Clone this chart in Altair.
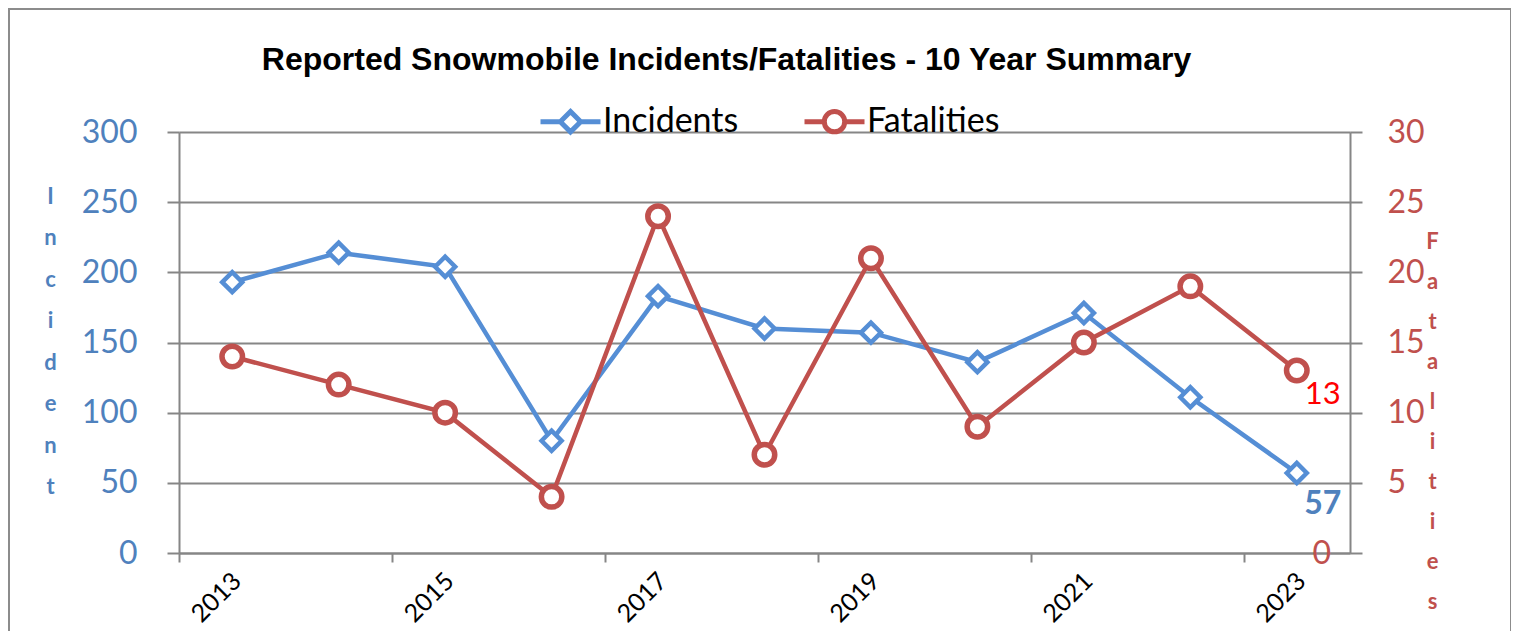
import altair as alt
import pandas as pd

# ---- data ----
years = [2013, 2014, 2015, 2016, 2017, 2018, 2019, 2020, 2021, 2022, 2023]
incidents = [193, 214, 204, 80, 183, 160, 157, 136, 171, 111, 57]
fatalities = [14, 12, 10, 4, 24, 7, 21, 9, 15, 19, 13]
series_names = ["Incidents", "Fatalities"]
x_tick_values = [2012.5, 2014.5, 2016.5, 2018.5, 2020.5, 2022.5]
left_ticks = [0, 50, 100, 150, 200, 250, 300]
right_ticks = [0, 5, 10, 15, 20, 25, 30]

BLUE_LINE = "#558ED5"
BLUE_TXT = "#4F81BD"
RED = "#C0504D"
GRAY = "#868686"

df = pd.DataFrame({"year": years, "incidents": incidents, "fatalities": fatalities})
legend_df = pd.DataFrame({"series": series_names})
frame_df = pd.DataFrame({"a": [0]})

W, H = 1171, 421

x_axis = alt.Axis(
    values=x_tick_values,
    labelExpr="format(datum.value + 0.5, 'd')",
    labelAngle=-45,
    labelAlign="right",
    labelBaseline="top",
    labelOffset=49,
    labelPadding=6,
    labelFont="Lato",
    labelFontSize=25,
    labelColor="black",
    tickSize=9,
    tickColor=GRAY,
    tickWidth=2,
    domainColor=GRAY,
    domainWidth=2,
    grid=False,
    title=None,
    labelOverlap=False,
)
x_scale = alt.Scale(domain=[2012.5, 2023.5], nice=False, zero=False)
x_enc = alt.X("year:Q", scale=x_scale, axis=x_axis)

left_axis = alt.Axis(
    orient="left",
    values=left_ticks,
    labelFont="Lato",
    labelFontSize=32,
    labelColor=BLUE_TXT,
    labelPadding=30,
    tickSize=12,
    tickColor=GRAY,
    tickWidth=2,
    domainColor=GRAY,
    domainWidth=2,
    grid=True,
    gridColor=GRAY,
    gridWidth=2,
    title=list("Incident"),
    titleAngle=0,
    titleAlign="center",
    titleBaseline="alphabetic",
    titleX=-129,
    titleY=71,
    titleLineHeight=41.5,
    titleFont="Lato",
    titleFontSize=22,
    titleFontWeight="bold",
    titleColor=BLUE_TXT,
)
y_left = alt.Y("incidents:Q", scale=alt.Scale(domain=[0, 300], nice=False), axis=left_axis)

right_axis = alt.Axis(
    orient="right",
    values=right_ticks,
    labelFont="Lato",
    labelFontSize=32,
    labelColor=RED,
    labelPadding={"condition": {"test": "datum.value === 0", "value": -50}, "value": 25},
    tickSize=12,
    tickColor=GRAY,
    tickWidth=2,
    domainColor=GRAY,
    domainWidth=2,
    grid=False,
    title=list("Fatalities"),
    titleAngle=0,
    titleAlign="center",
    titleBaseline="alphabetic",
    titleX=82,
    titleY=116,
    titleLineHeight=40,
    titleFont="Lato",
    titleFontSize=22,
    titleFontWeight="bold",
    titleColor=RED,
)
y_right = alt.Y("fatalities:Q", scale=alt.Scale(domain=[0, 30], nice=False), axis=right_axis)

base = alt.Chart(df)

inc_line = base.mark_line(color=BLUE_LINE, strokeWidth=4.5).encode(x=x_enc, y=y_left)
inc_pts = base.mark_point(
    shape="diamond", size=400, filled=True, fill="white", stroke=BLUE_LINE, strokeWidth=4.5, opacity=1
).encode(x=x_enc, y=y_left)
inc_txt = base.transform_filter("datum.year === 2023").mark_text(
    font="Lato", fontSize=32, fontWeight="bold", color=BLUE_TXT, dx=26, dy=31
).encode(x=x_enc, y=y_left, text="incidents:Q")

fat_line = base.mark_line(color=RED, strokeWidth=4.5).encode(x=x_enc, y=y_right)
fat_pts = base.mark_point(
    shape="circle", size=420, filled=True, fill="white", stroke=RED, strokeWidth=5.5, opacity=1
).encode(x=x_enc, y=y_right)
fat_txt = base.transform_filter("datum.year === 2023").mark_text(
    font="Lato", fontSize=31, color="#FF0000", dx=26, dy=24
).encode(x=x_enc, y=y_right, text="fatalities:Q")

DIAMOND_LEG = "M-1,0H-0.34M0.34,0H1M0,-0.34L0.34,0L0,0.34L-0.34,0Z"
CIRCLE_LEG = "M-1,0H-0.34M0.34,0H1M-0.34,0A0.34,0.34,0,1,1,0.34,0A0.34,0.34,0,1,1,-0.34,0Z"

leg = alt.Legend(
    orient="none",
    legendX=359,
    legendY=-43,
    direction="horizontal",
    title=None,
    labelFont="Lato",
    labelFontSize=34,
    labelColor="black",
    labelOffset=0,
    symbolSize=3600,
    symbolStrokeWidth=5,
    symbolFillColor="white",
    symbolOpacity=1,
    columnPadding=55,
)

legend_layer = alt.Chart(legend_df).transform_filter("false").mark_point(
    filled=False, strokeWidth=5, opacity=1
).encode(
    stroke=alt.Stroke("series:N", scale=alt.Scale(domain=series_names, range=[BLUE_LINE, RED]), legend=leg),
    shape=alt.Shape("series:N", scale=alt.Scale(domain=series_names, range=[DIAMOND_LEG, CIRCLE_LEG]), legend=leg),
)

frame = alt.Chart(frame_df).mark_rect(
    fillOpacity=0, stroke="#8C8C8C", strokeWidth=2, clip=False
).encode(
    x=alt.value(-170), x2=alt.value(1332), y=alt.value(-123), y2=alt.value(600)
)

left = alt.layer(inc_line, inc_pts, inc_txt)
right = alt.layer(fat_line, fat_pts, fat_txt)

chart = (
    alt.layer(left, right, legend_layer, frame)
    .resolve_scale(y="independent")
    .properties(
        width=W,
        height=H,
        autosize=alt.AutoSizeParams(type="none"),
        padding={"left": 171, "top": 124, "right": 161, "bottom": 78},
        title=alt.TitleParams(
            "Reported Snowmobile Incidents/Fatalities - 10 Year Summary",
            font="Liberation Sans",
            fontSize=32,
            fontWeight="bold",
            color="black",
            anchor="middle",
            frame="group",
            dx=-38,
            offset=0,
            dy=94,
            baseline="alphabetic",
        ),
    )
    .configure_view(stroke=None)
    .configure(background="white")
)

chart.save("out.html", embed_options={"renderer": "svg", "actions": False})
